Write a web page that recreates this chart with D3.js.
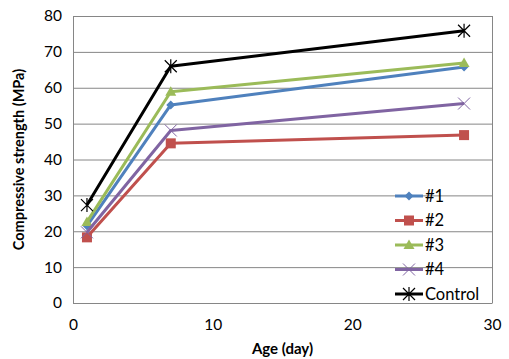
<!DOCTYPE html>
<html><head><meta charset="utf-8">
<script src="https://cdn.jsdelivr.net/npm/d3@7"></script>
<style>body{margin:0;background:#fff}svg{display:block;font-family:Lato,"Open Sans",sans-serif}</style>
</head><body><svg id="c" width="509" height="359"></svg>
<script>
const ages = [1, 7, 28];
const seriesNames = ["#1", "#2", "#3", "#4", "Control"];
const s1 = [21.5, 55.2, 65.8];
const s2 = [18.3, 44.5, 46.8];
const s3 = [22.6, 58.9, 66.9];
const s4 = [19.7, 48.1, 55.6];
const sControl = [27.3, 66.0, 75.9];
const xTicks = [0, 10, 20, 30];
const yTicks = [0, 10, 20, 30, 40, 50, 60, 70, 80];
const colors = ["#4F81BD", "#C0504D", "#9BBB59", "#8064A2", "#000000"];
const markers = ["diamond", "square", "triangle", "x", "star"];
const allSeries = [s1, s2, s3, s4, sControl];

const svg = d3.select("#c");
const x = d3.scaleLinear().domain([0, 30]).range([73, 492]);
const y = d3.scaleLinear().domain([0, 80]).range([303, 16]);

svg.append("g").selectAll("line").data(yTicks).join("line")
  .attr("x1", x(0)).attr("x2", x(30)).attr("y1", d => y(d) + 0.5).attr("y2", d => y(d) + 0.5)
  .attr("stroke", "#868686").attr("stroke-width", 1);
svg.append("line").attr("x1", x(0) + 0.5).attr("x2", x(0) + 0.5).attr("y1", y(80)).attr("y2", y(0) + 0.5).attr("stroke", "#868686");
svg.append("line").attr("x1", x(30) + 0.5).attr("x2", x(30) + 0.5).attr("y1", y(80)).attr("y2", y(0) + 0.5).attr("stroke", "#868686");

const yAxis = svg.append("g").attr("transform", `translate(${x(0)},0)`)
  .call(d3.axisLeft(y).tickValues(yTicks).tickSize(0).tickPadding(11));
yAxis.select(".domain").remove();
yAxis.selectAll("text").attr("font-size", 15.5).attr("fill", "#000").attr("font-family", "Lato,sans-serif");

const xAxis = svg.append("g").attr("transform", `translate(0,${y(0)})`)
  .call(d3.axisBottom(x).tickValues(xTicks).tickSize(0).tickPadding(16));
xAxis.select(".domain").remove();
xAxis.selectAll("text").attr("font-size", 15.5).attr("fill", "#000").attr("font-family", "Lato,sans-serif");

svg.append("text").attr("x", x(15)).attr("y", 354).attr("text-anchor", "middle")
  .attr("font-size", 15).attr("font-weight", "bold").text("Age (day)");
svg.append("text").attr("transform", `translate(24,${y(40)}) rotate(-90)`).attr("text-anchor", "middle")
  .attr("font-size", 14.5).attr("font-weight", "bold").text("Compressive strength (MPa)");

function drawMarker(g, type, cx, cy, color) {
  if (type === "diamond") {
    g.append("path").attr("d", `M${cx},${cy-4.5}L${cx+4.5},${cy}L${cx},${cy+4.5}L${cx-4.5},${cy}Z`).attr("fill", color);
  } else if (type === "square") {
    g.append("rect").attr("x", cx - 5).attr("y", cy - 5).attr("width", 10).attr("height", 10).attr("fill", color);
  } else if (type === "triangle") {
    g.append("path").attr("d", `M${cx},${cy-5.5}L${cx+5.5},${cy+4}L${cx-5.5},${cy+4}Z`).attr("fill", color);
  } else if (type === "x") {
    g.append("path").attr("d", `M${cx-6},${cy-6}L${cx+6},${cy+6}M${cx-6},${cy+6}L${cx+6},${cy-6}`).attr("stroke", color).attr("stroke-width", 1);
  } else if (type === "star") {
    g.append("path").attr("d", `M${cx-6},${cy-6}L${cx+6},${cy+6}M${cx-6},${cy+6}L${cx+6},${cy-6}M${cx},${cy-7}L${cx},${cy+7}`).attr("stroke", color).attr("stroke-width", 1.2);
  }
}

const line = d3.line().x((d, i) => x(ages[i])).y(d => y(d));
allSeries.forEach((vals, k) => {
  const g = svg.append("g");
  g.append("path").datum(vals).attr("d", line).attr("fill", "none")
    .attr("stroke", colors[k]).attr("stroke-width", 3).attr("stroke-linejoin", "round");
  vals.forEach((v, i) => drawMarker(g, markers[k], x(ages[i]), y(v), colors[k]));
});

const legendY0 = 196, legendDy = 24.5;
seriesNames.forEach((name, k) => {
  const g = svg.append("g");
  const ly = legendY0 + k * legendDy;
  g.append("line").attr("x1", 395).attr("x2", 423).attr("y1", ly).attr("y2", ly)
    .attr("stroke", colors[k]).attr("stroke-width", 3);
  drawMarker(g, markers[k], 409, ly, colors[k]);
  g.append("text").attr("x", 425).attr("y", ly + 5.5).attr("font-size", 16.5).text(name);
});
</script></body></html>
